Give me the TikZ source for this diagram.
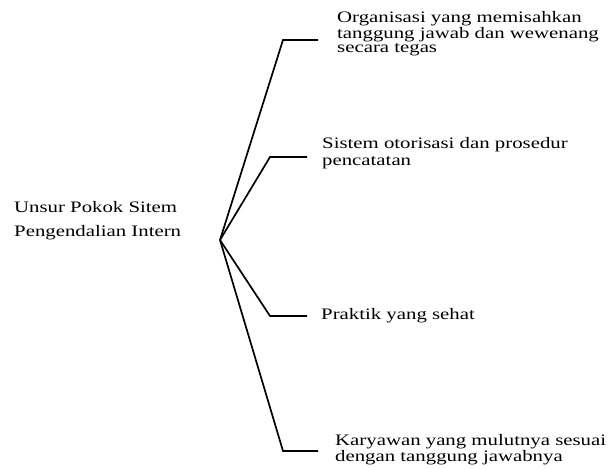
\documentclass[tikz,border=0pt]{standalone}
\usepackage{fontspec}
\setmainfont{Liberation Serif}[FakeStretch=1.3]
\begin{document}
\begin{tikzpicture}[x=1pt,y=1pt,
  lbl/.style={anchor=west,inner sep=0pt,align=left,text=black,font=\fontsize{16}{16}\selectfont},
  branch/.style={line width=1.7pt,line join=miter}]
\useasboundingbox (0,0) rectangle (612,468);
\node[lbl,font=\fontsize{16}{24}\selectfont] (root) at (14,247) {Unsur Pokok Sitem\\Pengendalian Intern};
\node[lbl,font=\fontsize{16}{14.5}\selectfont] (t1) at (337,434) {Organisasi yang memisahkan\\tanggung jawab dan wewenang\\secara tegas};
\node[lbl,font=\fontsize{16}{17}\selectfont] (t2) at (322,314.5) {Sistem otorisasi dan prosedur\\pencatatan};
\node[lbl] (t3) at (321,152) {Praktik yang sehat};
\node[lbl,font=\fontsize{16}{16}\selectfont] (t4) at (335,18) {Karyawan yang mulutnya sesuai\\dengan tanggung jawabnya};
\coordinate (apex) at (220,228);
\coordinate (c1) at (283,428);
\coordinate (e1) at (318,428);
\coordinate (c2) at (270,311);
\coordinate (e2) at (307,311);
\coordinate (c3) at (270,152);
\coordinate (e3) at (307,152);
\coordinate (c4) at (283,17);
\coordinate (e4) at (318,17);
\draw[branch] (apex) -- (c1) -- (e1);
\draw[branch] (apex) -- (c2) -- (e2);
\draw[branch] (apex) -- (c3) -- (e3);
\draw[branch] (apex) -- (c4) -- (e4);
\end{tikzpicture}
\end{document}
